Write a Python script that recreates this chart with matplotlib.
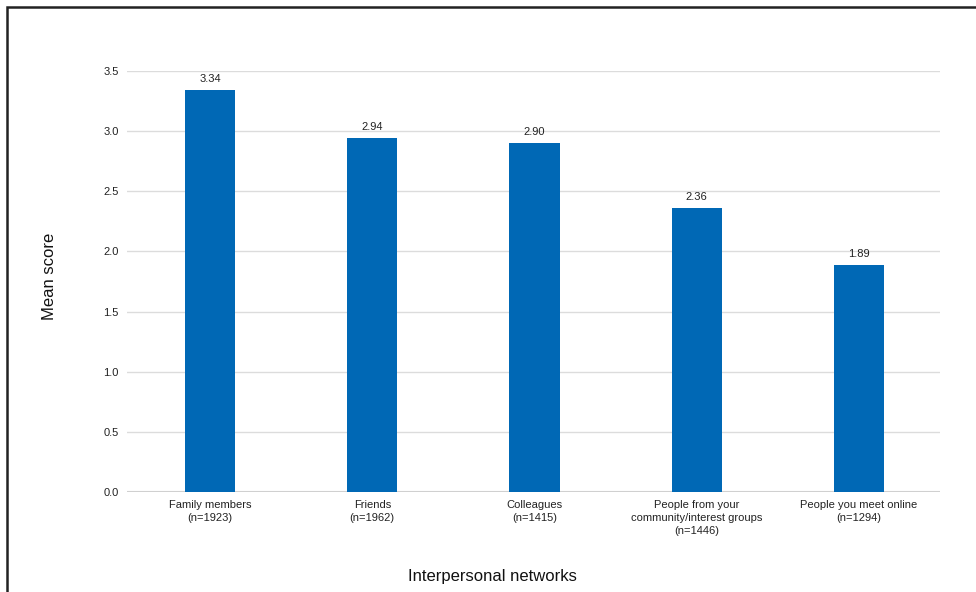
import matplotlib.pyplot as plt
from matplotlib.patches import Rectangle

plt.rcParams['font.family'] = ['Liberation Sans', 'DejaVu Sans']

# data
categories = ['Family members\n(n=1923)', 'Friends\n(n=1962)', 'Colleagues\n(n=1415)',
              'People from your\ncommunity/interest groups\n(n=1446)',
              'People you meet online\n(n=1294)']
means = [3.34, 2.94, 2.90, 2.36, 1.89]
yticks = [0.0, 0.5, 1.0, 1.5, 2.0, 2.5, 3.0, 3.5]

W, H = 976, 592
fig = plt.figure(figsize=(W / 100, H / 100), dpi=100)
ax = fig.add_axes([127 / W, 1 - 492 / H, (940 - 127) / W, (492 - 71) / H])

x = range(len(categories))
bars = ax.bar(x, means, width=0.31, color='#0068b5', zorder=3)
for b, v in zip(bars, means):
    ax.text(b.get_x() + b.get_width() / 2, v + 0.05, f'{v:.2f}',
            ha='center', va='bottom', fontsize=8, color='#222222')

ax.set_xlim(-0.512, 4.5)
ax.set_ylim(0, 3.5)
ax.set_yticks(yticks)
ax.set_yticklabels([f'{t:.1f}' for t in yticks])
ax.set_xticks(list(x))
ax.set_xticklabels(categories, fontsize=8, color='#222222', linespacing=1.35)
ax.tick_params(axis='y', labelsize=8, colors='#222222', length=0, pad=6)
ax.tick_params(axis='x', length=0, pad=6)
ax.grid(axis='y', color='#dcdcdc', linewidth=1, zorder=0)
ax.axhline(0, color='#d0d0d0', linewidth=1.5, zorder=1)
ax.set_axisbelow(True)
for s in ax.spines.values():
    s.set_visible(False)

fig.text(50 / W, 1 - 276 / H, 'Mean score', rotation=90, ha='center', va='center',
         fontsize=12, color='#111111')
fig.text(492 / W, 1 - 576 / H, 'Interpersonal networks', ha='center', va='center',
         fontsize=12, color='#111111')

# outer frame, cut off at right/bottom like the source image
fig.patches.append(Rectangle((7 / W, -0.1), 1.2, 1 - 7 / H + 0.1, transform=fig.transFigure,
                             fill=False, edgecolor='#222222', linewidth=1.8))

fig.savefig('out.png', dpi=100)
